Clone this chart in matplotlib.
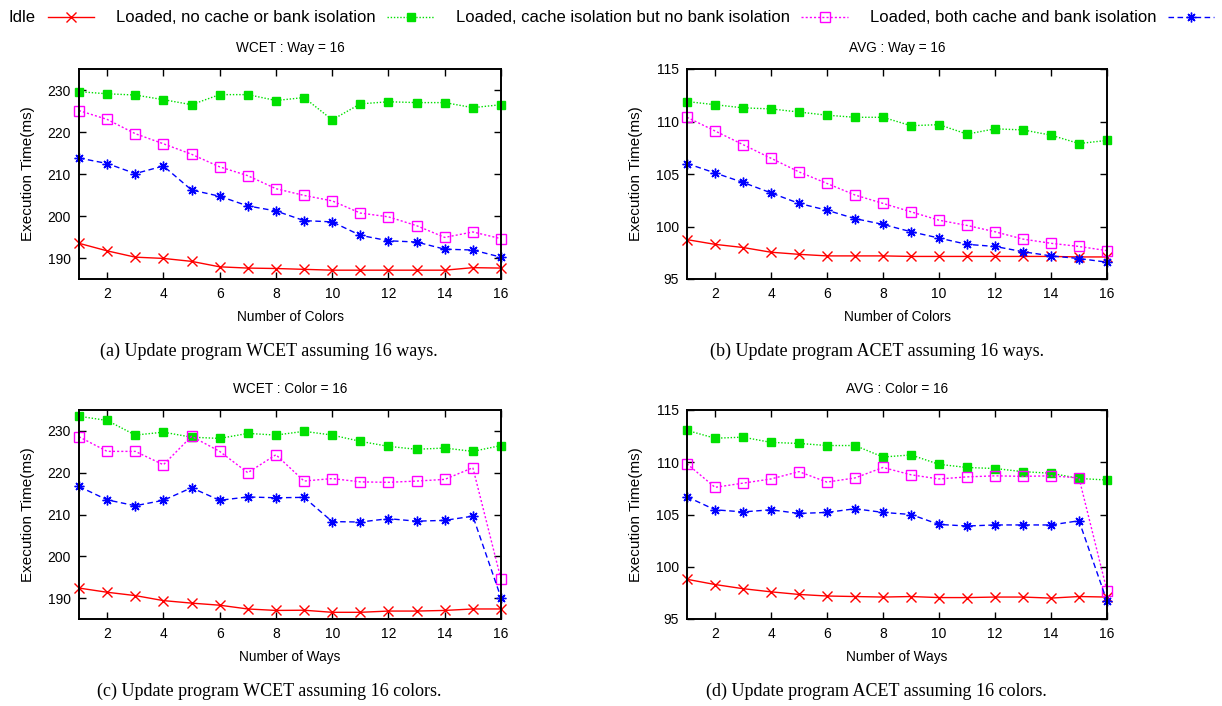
from __future__ import annotations

import matplotlib

matplotlib.use("Agg")
import matplotlib.pyplot as plt

# x axis: number of colors / ways
X = list(range(1, 17))

# (a) WCET, way = 16
WCET_WAY_IDLE = [193.5, 191.7, 190.2, 189.9, 189.2, 187.9, 187.6, 187.5,
                 187.3, 187.1, 187.1, 187.1, 187.1, 187.1, 187.7, 187.6]
WCET_WAY_NONE = [229.6, 229.1, 228.8, 227.7, 226.5, 228.9, 228.9, 227.5,
                 228.2, 222.9, 226.7, 227.2, 227.0, 227.0, 225.8, 226.5]
WCET_WAY_CACHE = [225.1, 223.0, 219.6, 217.2, 214.7, 211.7, 209.6, 206.5,
                  204.9, 203.6, 200.7, 199.8, 197.7, 194.9, 196.2, 194.6]
WCET_WAY_BOTH = [213.8, 212.5, 210.1, 211.9, 206.2, 204.7, 202.4, 201.2,
                 198.9, 198.6, 195.4, 194.1, 193.8, 192.1, 191.9, 190.2]

# (b) average, way = 16
AVG_WAY_IDLE = [98.75, 98.3, 98.0, 97.55, 97.35, 97.2, 97.2, 97.2,
                97.15, 97.15, 97.15, 97.15, 97.15, 97.15, 97.1, 97.1]
AVG_WAY_NONE = [111.9, 111.6, 111.3, 111.2, 110.9, 110.6, 110.4, 110.4,
                109.6, 109.7, 108.8, 109.3, 109.2, 108.7, 107.9, 108.2]
AVG_WAY_CACHE = [110.4, 109.1, 107.8, 106.5, 105.2, 104.1, 103.0, 102.2,
                 101.4, 100.6, 100.1, 99.5, 98.8, 98.4, 98.1, 97.7]
AVG_WAY_BOTH = [106.0, 105.1, 104.2, 103.2, 102.2, 101.55, 100.75, 100.2,
                99.5, 98.9, 98.3, 98.1, 97.6, 97.2, 96.95, 96.6]

# (c) WCET, color = 16
WCET_COLOR_IDLE = [192.4, 191.4, 190.6, 189.4, 188.8, 188.3, 187.4, 187.05,
                   187.1, 186.6, 186.6, 186.9, 186.9, 187.05, 187.4, 187.4]
WCET_COLOR_NONE = [233.5, 232.5, 229.0, 229.7, 228.5, 228.2, 229.4, 229.0,
                   229.9, 229.0, 227.5, 226.3, 225.6, 225.9, 225.1, 226.5]
WCET_COLOR_CACHE = [228.6, 225.1, 225.1, 221.9, 228.7, 225.1, 220.0, 224.3,
                    218.0, 218.6, 217.8, 217.7, 218.0, 218.4, 221.2, 194.5]
WCET_COLOR_BOTH = [216.7, 213.5, 212.1, 213.4, 216.4, 213.4, 214.2, 214.0,
                   214.1, 208.3, 208.2, 209.0, 208.4, 208.6, 209.6, 190.1]

# (d) average, color = 16
AVG_COLOR_IDLE = [98.8, 98.3, 97.9, 97.6, 97.35, 97.2, 97.15, 97.1,
                  97.15, 97.05, 97.05, 97.1, 97.1, 97.0, 97.15, 97.1]
AVG_COLOR_NONE = [113.05, 112.3, 112.4, 111.9, 111.8, 111.6, 111.6, 110.5,
                  110.7, 109.8, 109.5, 109.4, 109.1, 108.95, 108.45, 108.3]
AVG_COLOR_CACHE = [109.85, 107.6, 108.0, 108.4, 109.1, 108.1, 108.5, 109.5,
                   108.8, 108.4, 108.6, 108.7, 108.65, 108.7, 108.5, 97.7]
AVG_COLOR_BOTH = [106.7, 105.45, 105.25, 105.45, 105.1, 105.2, 105.55, 105.2,
                  105.0, 104.05, 103.9, 104.0, 104.0, 104.0, 104.4, 96.7]

SERIES_LABELS = [
    "Idle",
    "Loaded, no cache or bank isolation",
    "Loaded, cache isolation but no bank isolation",
    "Loaded, both cache and bank isolation",
]

PANEL_TITLES = ["WCET : Way = 16", "AVG : Way = 16", "WCET : Color = 16", "AVG : Color = 16"]
PANEL_XLABELS = ["Number of Colors", "Number of Colors", "Number of Ways", "Number of Ways"]
PANEL_CAPTIONS = [
    "(a) Update program WCET assuming 16 ways.",
    "(b) Update program ACET assuming 16 ways.",
    "(c) Update program WCET assuming 16 colors.",
    "(d) Update program ACET assuming 16 colors.",
]
PANEL_DATA = [
    [WCET_WAY_IDLE, WCET_WAY_NONE, WCET_WAY_CACHE, WCET_WAY_BOTH],
    [AVG_WAY_IDLE, AVG_WAY_NONE, AVG_WAY_CACHE, AVG_WAY_BOTH],
    [WCET_COLOR_IDLE, WCET_COLOR_NONE, WCET_COLOR_CACHE, WCET_COLOR_BOTH],
    [AVG_COLOR_IDLE, AVG_COLOR_NONE, AVG_COLOR_CACHE, AVG_COLOR_BOTH],
]
PANEL_YLIMS = [(185, 235), (95, 115), (185, 235), (95, 115)]
PANEL_YTICKS = [range(190, 231, 10), range(95, 116, 5), range(190, 231, 10), range(95, 116, 5)]
XTICKS = list(range(2, 17, 2))

STYLES = [
    dict(color="#ff0000", linestyle="-", marker="x", markersize=6.5, mew=1.0, lw=1.0),
    dict(color="#00e000", linestyle=(0, (1, 1.3)), marker="s", markersize=5.5,
         mfc="#00e000", mec="#00e000", lw=1.0),
    dict(color="#ff00ff", linestyle=(0, (1.5, 1.5)), marker="s", markersize=6.5,
         mfc="none", mec="#ff00ff", mew=1.0, lw=1.0),
    dict(color="#0000ff", linestyle=(0, (4, 2.5)), marker=(8, 2, 0), markersize=7,
         mew=1.0, lw=1.0),
]

plt.rcParams["font.family"] = ["Liberation Sans", "DejaVu Sans"]
plt.rcParams["font.size"] = 10

# axes boxes in figure pixels: (left, top, right, bottom)
W, H = 1222, 706
BOXES = [(79, 69, 501, 279), (687, 69, 1107, 279), (79, 410, 501, 619), (687, 410, 1107, 619)]
CAPTION_POS = [(269, 351), (877, 351), (269, 691), (876, 691)]

fig = plt.figure(figsize=(W / 100, H / 100), dpi=100)

handles = []
for i, (l, t, r, b) in enumerate(BOXES):
    ax = fig.add_axes([l / W, 1 - b / H, (r - l) / W, (b - t) / H])
    lines = []
    for values, style in zip(PANEL_DATA[i], STYLES):
        (ln,) = ax.plot(X, values, clip_on=False, **style)
        lines.append(ln)
    if not handles:
        handles = lines
    ax.set_xlim(1, 16)
    ax.set_ylim(*PANEL_YLIMS[i])
    ax.set_xticks(XTICKS)
    ax.set_yticks(list(PANEL_YTICKS[i]))
    ax.tick_params(direction="in", top=True, right=True, length=5, width=1.0, pad=6,
                   labelsize=10)
    for spine in ax.spines.values():
        spine.set_linewidth(1.4)
    ax.set_title(PANEL_TITLES[i], pad=12, fontsize=9.8)
    ax.set_xlabel(PANEL_XLABELS[i], labelpad=6, fontsize=9.8)
    ax.set_ylabel("Execution Time(ms)", fontsize=11)
    ax.yaxis.set_label_coords(-0.105, 0.5)
    cx, cy = CAPTION_POS[i]
    fig.text(cx / W, 1 - cy / H, PANEL_CAPTIONS[i], ha="center", va="center",
             family=["Liberation Serif", "DejaVu Serif"], fontsize=13)

fig.legend(handles, SERIES_LABELS, loc="center left", bbox_to_anchor=(9 / W, 1 - 18 / H),
           ncol=4, frameon=False, markerfirst=False, fontsize=12, handlelength=2.8,
           handletextpad=0.7, columnspacing=1.3, borderpad=0, borderaxespad=0)

fig.savefig("out.png", dpi=100)
